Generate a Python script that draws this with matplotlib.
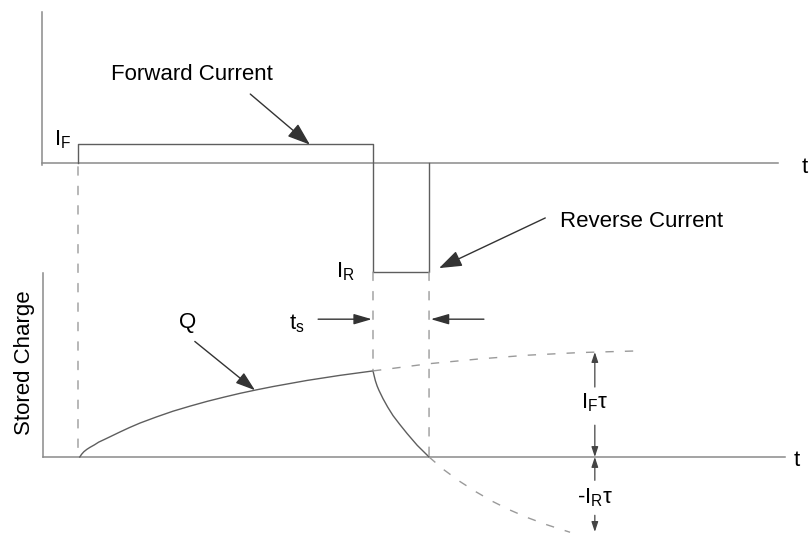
import matplotlib.pyplot as plt
from matplotlib.patches import ConnectionPatch

plt.rcParams['font.family'] = ['Liberation Sans', 'DejaVu Sans']
plt.rcParams['mathtext.fontset'] = 'custom'
plt.rcParams['mathtext.rm'] = 'Liberation Sans'
plt.rcParams['mathtext.it'] = 'Liberation Sans'

# time in arbitrary units: forward current on at 0, reversed at T_OFF
T_ON = 0.0
T_OFF = 5.0
T_RR = 5.95          # end of the storage time t_s
I_F = 1.0
I_R = -5.74

# current waveform (step corners)
cur_t = [T_ON, T_ON, T_OFF, T_OFF, T_RR, T_RR]
cur_i = [0.0, I_F, I_F, I_R, I_R, 0.0]

# stored charge, in units of I_F*tau
rise_t = [0.03, 0.06, 0.10, 0.15, 0.20, 0.28, 0.35, 0.45, 0.54, 0.70, 0.87,
          1.05, 1.33, 1.61, 1.90, 2.19, 2.47, 2.75, 3.03, 3.31, 3.60, 3.88,
          4.16, 4.44, 4.72, 5.0]
rise_q = [0.0, 0.025, 0.05, 0.072, 0.09, 0.115, 0.14, 0.166, 0.19, 0.233, 0.277,
          0.32, 0.378, 0.432, 0.48, 0.525, 0.564, 0.601, 0.634, 0.665, 0.694, 0.722,
          0.746, 0.770, 0.791, 0.812]
steady_t = [5.0, 5.95, 6.8, 7.61, 8.5, 9.44]
steady_q = [0.812, 0.88, 0.925, 0.96, 0.985, 1.0]
decay_t = [5.0, 5.02, 5.04, 5.07, 5.10, 5.17, 5.25, 5.34, 5.45, 5.58, 5.75, 5.95]
decay_q = [0.812, 0.765, 0.72, 0.67, 0.63, 0.55, 0.47, 0.39, 0.31, 0.22, 0.11, 0.0]
tail_t = [5.95, 6.2, 6.47, 6.75, 7.03, 7.32, 7.61, 7.95, 8.34]
tail_q = [0.0, -0.12, -0.23, -0.33, -0.42, -0.50, -0.57, -0.64, -0.71]
IF_TAU = 1.0
IR_TAU = -0.717

LINE = '#5e5e5e'
AXC = '#8a8a8a'
DASHC = '#9a9a9a'
DASH = (0, (6, 8))
FS = 16

fig = plt.figure(figsize=(8.09, 5.33), dpi=100)
ax_i = fig.add_axes([0, 0, 1, 1])
ax_q = fig.add_axes([0, 0, 1, 1])
for ax in (ax_i, ax_q):
    ax.set_xlim(-1.322, 12.39)
    ax.axis('off')
    ax.patch.set_alpha(0)
ax_i.set_ylim(-19.47, 8.58)
ax_q.set_ylim(-0.717, 4.311)

# axes drawn by hand
ax_i.plot([-0.61, -0.61], [7.95, -0.1], color=AXC, lw=1.1)
ax_i.plot([-0.61, 11.86], [0, 0], color=AXC, lw=1.1)
ax_q.plot([-0.59, -0.59], [1.74, 0], color=AXC, lw=1.1)
ax_q.plot([-0.59, 11.98], [0, 0], color=AXC, lw=1.1)
ax_i.text(12.32, -0.53, 't', fontsize=FS, ha='center', va='baseline')
ax_q.text(12.19, -0.085, 't', fontsize=FS, ha='center', va='baseline')

# current pulse
ax_i.plot(cur_t, cur_i, color=LINE, lw=1.0)
ax_i.text(-0.41, 0.95, r'$\mathregular{I_F}$', fontsize=FS, ha='left', va='baseline')
ax_i.text(4.37, -6.0, r'$\mathregular{I_R}$', fontsize=FS, ha='left', va='baseline')

# stored charge
ax_q.plot(rise_t, rise_q, color=LINE, lw=1.0)
ax_q.plot(decay_t, decay_q, color=LINE, lw=1.0)
ax_q.plot(steady_t, steady_q, color=DASHC, lw=1.0, ls=DASH)
ax_q.plot(tail_t, tail_q, color=DASHC, lw=1.0, ls=DASH)
ax_q.text(-0.9, 0.89, 'Stored Charge', fontsize=FS, rotation=90,
          ha='center', va='center')

# dashed guides linking the two traces
for t0, i0, q0 in [(T_ON, -0.2, 0.0), (T_OFF, I_R, rise_q[-1]), (T_RR, I_R, 0.0)]:
    con = ConnectionPatch(xyA=(t0, i0), coordsA=ax_i.transData,
                          xyB=(t0, q0), coordsB=ax_q.transData,
                          color=DASHC, lw=1.0, ls=DASH)
    fig.add_artist(con)


def arrow(ax, tip, tail, hl, hw, color='#333333', lw=1.0):
    ax.annotate('', xy=tip, xytext=tail,
                arrowprops=dict(arrowstyle=f'-|>,head_length={hl},head_width={hw}',
                                color=color, lw=lw, shrinkA=0, shrinkB=0,
                                mutation_scale=1))


# labels with pointers
ax_i.text(1.93, 4.68, 'Forward Current', fontsize=FS, ha='center', va='center')
arrow(ax_i, (3.93, 0.97), (2.92, 3.63), 14, 5)
ax_i.text(8.17, -3.1, 'Reverse Current', fontsize=FS, ha='left', va='center')
arrow(ax_i, (6.12, -5.53), (7.92, -2.89), 14, 5)
ax_q.text(1.86, 1.27, 'Q', fontsize=FS, ha='center', va='center')
arrow(ax_q, (3.0, 0.63), (1.98, 1.09), 12, 4)

# storage time t_s
ax_q.text(3.57, 1.2, r'$\mathregular{t_s}$', fontsize=FS, ha='left', va='baseline')
arrow(ax_q, (T_OFF - 0.02, 1.30), (4.07, 1.30), 11, 3.2)
arrow(ax_q, (T_RR + 0.03, 1.30), (6.88, 1.30), 11, 3.2)

# I_F*tau and -I_R*tau dimensions
xd = 8.76
arrow(ax_q, (xd, IF_TAU - 0.01), (xd, 0.66), 6, 2, color='#444444', lw=0.9)
arrow(ax_q, (xd, 0.0), (xd, 0.30), 6, 2, color='#444444', lw=0.9)
ax_q.text(xd, 0.51, r'$\mathregular{I_F}$τ', fontsize=FS, ha='center', va='center')
arrow(ax_q, (xd, 0.0), (xd, -0.22), 6, 2, color='#444444', lw=0.9)
arrow(ax_q, (xd, IR_TAU + 0.01), (xd, -0.55), 6, 2, color='#444444', lw=0.9)
ax_q.text(xd, -0.38, r'-$\mathregular{I_R}$τ', fontsize=FS, ha='center', va='center')

fig.savefig('out.png', dpi=100)
